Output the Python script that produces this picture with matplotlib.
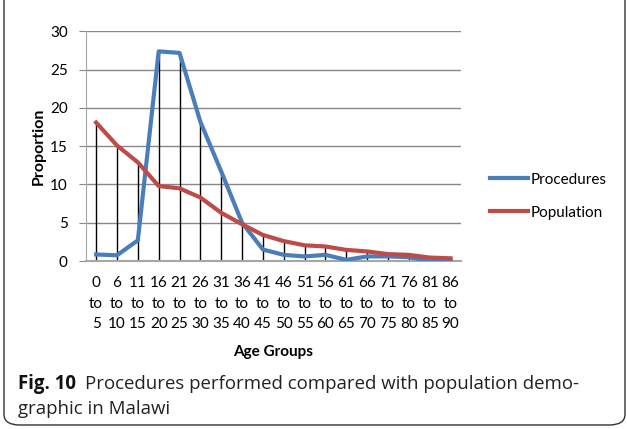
import matplotlib
matplotlib.use("Agg")
import matplotlib.pyplot as plt
from matplotlib.patches import FancyBboxPatch
import numpy as np

starts = [0, 6, 11, 16, 21, 26, 31, 36, 41, 46, 51, 56, 61, 66, 71, 76, 81, 86]
ends = [5, 10, 15, 20, 25, 30, 35, 40, 45, 50, 55, 60, 65, 70, 75, 80, 85, 90]
categories = [f"{s}\nto\n{e}" for s, e in zip(starts, ends)]
procedures = [0.85, 0.75, 2.7, 27.4, 27.2, 18.2, 11.7, 5.0, 1.5, 0.8, 0.6, 0.8, 0.15, 0.6, 0.6, 0.5, 0.05, 0.0]
population = [18.1, 15.1, 12.9, 9.8, 9.5, 8.3, 6.3, 4.8, 3.4, 2.6, 2.05, 1.9, 1.45, 1.25, 0.9, 0.8, 0.45, 0.35]

plt.rcParams['font.family'] = ['Lato', 'DejaVu Sans']

fig = plt.figure(figsize=(6.27, 4.29), dpi=100)
ax = fig.add_axes([0.1367, 0.3916, 0.7352 - 0.1367, 0.9266 - 0.3916])

x = np.arange(len(categories))
tops = np.maximum(procedures, population)
ax.vlines(x, 0, tops, color='black', lw=1.0, zorder=2)
ax.plot(x, procedures, color='#4a7ebb', lw=3.0, label='Procedures', zorder=3, solid_joinstyle='round')
ax.plot(x, population, color='#be4b48', lw=3.0, label='Population', zorder=3, solid_joinstyle='round')

ax.set_xlim(-0.5, len(categories) - 0.5)
ax.set_ylim(0, 30)
ax.set_yticks(range(0, 31, 5))
ax.set_xticks(x)
ax.set_xticklabels(categories, fontsize=11, linespacing=1.6)
ax.tick_params(axis='y', labelsize=11, length=5, color='#888888', pad=8)
ax.tick_params(axis='x', length=0, pad=11)
ax.grid(axis='y', color='#888888', lw=1.0)
ax.set_axisbelow(True)
for s in ['top', 'right']:
    ax.spines[s].set_visible(False)
ax.spines['left'].set_color('#a6a6a6')
ax.spines['bottom'].set_color('#a6a6a6')
ax.spines['bottom'].set_linewidth(1.5)

ax.set_ylabel('Proportion', fontsize=11.5, fontweight='bold', labelpad=3)
ax.set_xlabel('Age Groups', fontsize=11, fontweight='bold', labelpad=10)

leg = ax.legend(loc='center left', bbox_to_anchor=(1.04, 0.283), frameon=False,
                fontsize=11, handlelength=2.5, handletextpad=0.15, labelspacing=1.25)

# rounded border
border = FancyBboxPatch((4 / 627, 4 / 429), 621 / 627, 440 / 429,
                        boxstyle='round,pad=0,rounding_size=0.025',
                        transform=fig.transFigure, fill=False,
                        edgecolor='#333333', lw=1.0, clip_on=False)
fig.patches.append(border)

cap_y1 = 1 - 384 / 429
cap_y2 = 1 - 409 / 429
fig.text(18 / 627, cap_y1, 'Fig. 10', fontsize=13.4, va='center', ha='left',
         family='Open Sans', fontweight='bold', color='#111111')
fig.text(85 / 627, cap_y1, 'Procedures performed compared with population demo-',
         fontsize=13.4, va='center', ha='left', family='Open Sans', color='#222222')
fig.text(18 / 627, cap_y2, 'graphic in Malawi',
         fontsize=13.4, va='center', ha='left', family='Open Sans', color='#222222')

fig.savefig('out.png', dpi=100)
